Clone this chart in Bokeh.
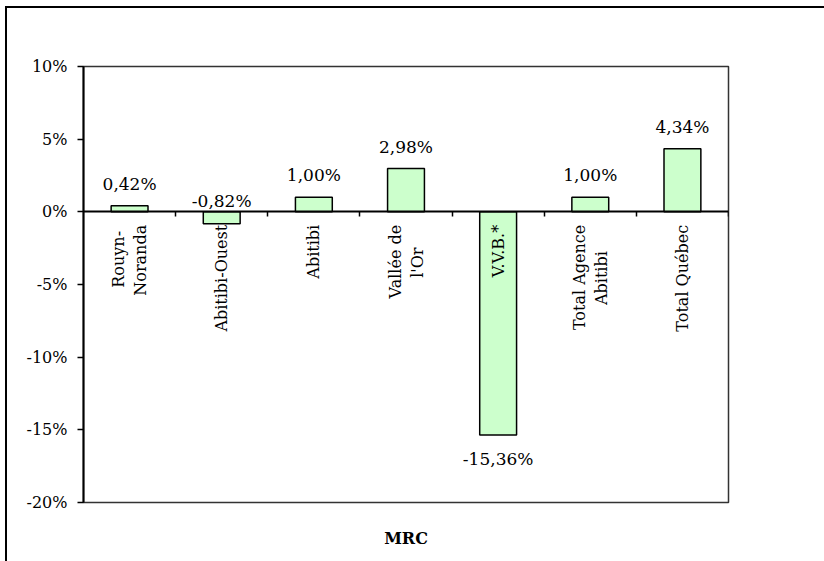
import math
from bokeh.plotting import figure
from bokeh.models import (Range1d, LinearAxis, FixedTicker, CustomJSTickFormatter,
                          PrintfTickFormatter, ColumnDataSource)
from bokeh.core.properties import value
from bokeh.embed import file_html
from bokeh.resources import INLINE

categories = ["Rouyn-\nNoranda", "Abitibi-Ouest", "Abitibi", "Vallée de\nl'Or",
              "V.V.B.*", "Total Agence\nAbitibi", "Total Québec"]
values = [0.42, -0.82, 1.00, 2.98, -15.36, 1.00, 4.34]
value_labels = ["0,42%", "-0,82%", "1,00%", "2,98%", "-15,36%", "1,00%", "4,34%"]
y_ticks = [-20, -15, -10, -5, 0, 5, 10]
x_title = "MRC"

FONT = "DejaVu Serif"
CAT_SIZE = 16
n = len(categories)
xc = [i + 0.5 for i in range(n)]

# approximate DejaVu Serif advance widths (em) used to centre wrapped label lines
_W = {" ": .318, "-": .338, ".": .318, "'": .275, "*": .5, "A": .722, "N": .773,
      "O": .787, "R": .77, "T": .668, "V": .722, "B": .733, "Q": .787,
      "a": .596, "b": .64, "c": .56, "d": .64, "e": .592, "g": .64, "i": .32,
      "l": .32, "n": .644, "o": .602, "r": .478, "s": .513, "t": .402, "u": .644,
      "y": .565, "é": .592}


def text_len(s):
    return sum(_W.get(ch, .6) for ch in s) * CAT_SIZE


p = figure(width=824, height=561, output_backend="svg", toolbar_location=None,
           x_range=Range1d(0, n), y_range=Range1d(-20, 10),
           x_axis_location=None, tools="",
           min_border_left=83, min_border_top=66, min_border_right=96, min_border_bottom=59)
p.background_fill_color = "white"
p.border_fill_alpha = 0
p.grid.visible = False
p.outline_line_color = "#333333"
p.outline_line_width = 1.5

# y axis
ya = p.yaxis[0]
ya.ticker = FixedTicker(ticks=y_ticks)
ya.formatter = PrintfTickFormatter(format="%d%%")
ya.minor_tick_line_color = None
ya.major_tick_out = 6
ya.major_tick_in = 0
ya.axis_line_width = 2
ya.axis_line_color = "black"
ya.major_tick_line_color = "black"
ya.major_tick_line_width = 1.5
ya.major_label_text_font = FONT
ya.major_label_text_font_size = "16px"
ya.major_label_text_color = "black"
ya.major_label_standoff = 10

# bars
src = ColumnDataSource(dict(x=xc, top=values))
p.vbar(x="x", top="top", bottom=0, width=0.4, source=src,
       fill_color="#CCFFCC", line_color="black", line_width=1.5)

# x axis at zero: ticks at category boundaries
tick_ax = LinearAxis(ticker=FixedTicker(ticks=list(range(1, n + 1))),
                     formatter=CustomJSTickFormatter(code="return ''"))
tick_ax.fixed_location = 0
tick_ax.major_tick_out = 5
tick_ax.major_tick_in = 0
tick_ax.major_tick_line_color = "black"
tick_ax.major_tick_line_width = 1.5
tick_ax.minor_tick_line_color = None
tick_ax.axis_line_color = "black"
tick_ax.axis_line_width = 2
p.add_layout(tick_ax, "below")

# bottom axis that only carries the "MRC" title
title_ax = LinearAxis(ticker=FixedTicker(ticks=[]), axis_label=x_title,
                      formatter=CustomJSTickFormatter(code="return ''"))
title_ax.axis_line_color = None
title_ax.major_tick_line_color = None
title_ax.minor_tick_line_color = None
title_ax.major_tick_out = 0
title_ax.major_label_standoff = 0
title_ax.axis_label_standoff = 26
title_ax.axis_label_text_font = FONT
title_ax.axis_label_text_font_size = "16px"
title_ax.axis_label_text_font_style = "bold"
title_ax.axis_label_text_color = "black"
p.add_layout(title_ax, "below")

# category labels: rotated, lines centred, placed just under the zero line
LINE_SP = 22
lx, lt, lxo, lyo = [], [], [], []
for x, cat in zip(xc, categories):
    lines = cat.split("\n")
    lmax = max(text_len(s) for s in lines)
    for k, s in enumerate(lines):
        lx.append(x)
        lt.append(s)
        lxo.append((k - (len(lines) - 1) / 2) * LINE_SP)
        lyo.append(13 + (lmax - text_len(s)) / 2)
p.text(x=lx, y=0, text=lt, x_offset=lxo, y_offset=lyo, angle=math.pi / 2,
       text_align="right", text_baseline="middle", text_font=value(FONT),
       text_font_size=f"{CAT_SIZE}px", text_color="black")

# value labels
ax_, ay_, at_, ao_ = [], [], [], []
bx_, by_, bt_ = [], [], []
for x, v, t in zip(xc, values, value_labels):
    if v > -2:
        ax_.append(x); ay_.append(max(v, 0)); at_.append(t)
        ao_.append(-22 if v >= 0 else -11)
    else:
        bx_.append(x); by_.append(v); bt_.append(t)
p.text(x=ax_, y=ay_, text=at_, y_offset=ao_, text_align="center",
       text_baseline="alphabetic", text_font=value(FONT), text_font_size="17px",
       text_color="black")
p.text(x=bx_, y=by_, text=bt_, y_offset=14, text_align="center",
       text_baseline="top", text_font=value(FONT), text_font_size="17px",
       text_color="black")

# outer chart frame: left and top sides only (the rest lies beyond the page)
p.styles = {"background-color": "white",
            "box-shadow": "inset 5px 6px 0 0 #ffffff, inset 7px 8px 0 0 #000000"}

open("out.html", "w").write(file_html(p, INLINE))
